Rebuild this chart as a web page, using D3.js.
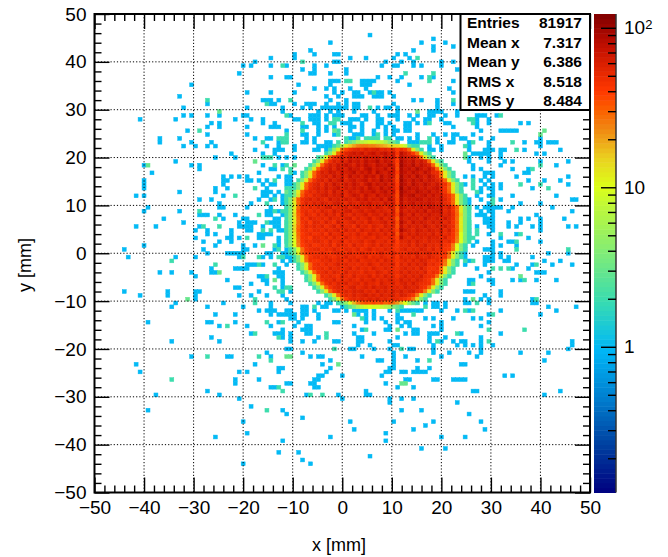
<!DOCTYPE html>
<html>
  <head>
    <meta charset="utf-8">
    <title>beam spot</title>
    <style>
      body { margin: 0; background: #fff; }
      text { font-family: "Liberation Sans", Arial, sans-serif; fill: #000; }
    </style>
  </head>
  <body>
    <script src="https://cdn.jsdelivr.net/npm/d3@7"></script>
    <script>
      // histogram has 125 x 125 bins, rows count from the top of the frame
      var nBins = 125;

      // sparse cells: [row, col, col, ...]
      var hits1 = [
        [5,69],[6,85],[7,59,82,88],[8,85,90],[9,54,80,85],[10,50,55,60,61,76,78],[11,44,50,64,68,75,79],
        [12,40,60,61,73,77,80,87,90],[13,37,39,44,48,55,58,72,75,76,80,82,87],[14,52,55,63,91],[15,36,54,55,59,63],
        [16,44,48,49,71,74,77,82,85],[17,59,60,61,67,68,69,70,76,90],[18,24,51,59,67,68,69,79],[19,55,58,60,64,68,89],
        [20,38,44,50,60,62,65,66,69,71,72,74,90],[21,21,58,61,65,66,67,70,71,72,75],[22,42,43,44,46,59,63,80,82,86],
        [23,28,44,45,50,53,54,55,58,61,63,65,66,75,86,90],[24,22,38,47,52,54,57,58,59,60,61,62,63,65,66,71,73,74,76,86],
        [25,47,56,59,61,65,70,76,84,85,86,87,91],
        [26,22,24,28,31,37,38,49,54,55,56,58,60,61,62,67,68,71,74,75,76,79,81,84,85,88,91,96,97,98,101],
        [27,11,20,35,39,42,50,51,54,55,56,58,64,65,66,68,71,72,76,80,83,84,87,96,99],
        [28,29,31,42,45,55,56,62,63,64,67,71,72,74,78,79,81,83,88,89,96,99,107,109],
        [29,28,31,38,44,45,46,52,53,56,58,60,64,65,67,71,73,75,78,79,90,96],
        [30,23,48,56,58,64,67,70,73,75,76,78,79,97,102,103,104,105,106],
        [31,28,38,52,53,56,60,65,66,67,70,73,75,81,85,88,90,91,95],
        [32,16,21,40,43,44,53,55,64,65,76,77,79,81,86,90,92,93,97,100,112],
        [33,16,24,29,46,52,53,55,58,59,79,80,81,86,89,90,94,99,108,111,112,114,115,116],
        [34,22,25,28,30,43,46,50,56,57,58,59,60,84,87,94,99,112],
        [35,40,45,46,47,50,55,56,58,84,85,87,94,98,99,100,102,103,108,117],
        [36,34,42,45,95,96,97,98,99,102,111,113],[37,30,35,46,48,50,94,97,99,102],[38,20,94,99,103,105,112,119],
        [39,12,24,26,42,47,95,102,116],[40,26,44,45,95,97,105,109],[41,14,41,50,98,99,100,108,109],
        [42,32,34,36,38,46,48,49,93,95,98,100,106,119],[43,12,32,33,38,39,41,43,48,49,97,99,109,113,117],
        [44,12,32,42,44,45,48,49,93,98,100,102,119],[45,12,30,33,43,97,99,100,102,110],[46,21,30,42,43,44,46,97,100],
        [47,10,12,32,42,43,45,47,96,99,100,105,116],[48,26,29,41,44,47,93,94,97,102,120,121],[49,31,39,47,48,94,99,107,112],
        [50,13,31,32,38,44,48,96,98,99,100,101,102,105,115],[51,12,21,43,44,46,97,99,100,104,120],
        [52,26,27,28,31,35,43,44,47,96,97,98,100,111],[53,17,32,37,38,45,46,93,98,99,100,107,109,112,118],
        [54,22,36,38,39,40,44,45,46,98,99,100,104,107,112],[55,10,15,26,36,37,38,39,42,45,46,96,99,100,104,106,110,112,119,121],
        [56,25,28,34,38,39,46,47,94,100,112],[57,28,30,34,41,42,43,44,94,99,106],[58,25,33,34,36,41,42,46,93,94,102,109],
        [59,27,31,34,46,96,100,104,105,112],[60,12,30,37,40,46,93,95,100,102,106],[61,7,27,37,38,45,48,93,98,99,100],
        [62,28,33,34,35,36,37,43,44,47,48,49,93,100,102,114,119],[63,8,20,25,36,42,44,48,49,93,98,99,100,102,104,110],
        [64,47,49,94,98,99,100,103,104,113,117],[65,38,39,40,42,48,93,98,106,110,115,120],[66,29,35,36,37,38,46,96,105,109],
        [67,16,19,24,29,30,45,46,47,99,111,112,113],[68,25,41,42,46,47,97],[69,33,42,43,47,94,95,99,100,105,107,111,116],
        [70,39,43,47,94,100],[71,35,36,47],[72,7,18,25,26,41,49,93,94,95,102],[73,11,18,25,36,39,43,47,98,102],
        [74,25,48,93,97,99,110],[75,20,32,44,49,56,58,59,61,62,83,85,86,88,93,94,99,110,111],
        [76,19,28,37,44,52,53,57,58,62,63,85,86,88,114,121],
        [77,41,43,44,45,48,49,52,53,55,60,61,63,65,66,67,68,70,74,77,78,79,80,81,82,87,91,94,102,116],
        [78,30,35,44,46,47,48,49,50,52,53,56,66,68,70,76,99,112],[79,49,50,52,56,68,70,72,76,77,83,85,90,95,97],
        [80,13,28,29,35,46,51,60,61,68,73,76,78,79,87,99],[81,31,38,44,50,53,54,65,74,77,79,85,87,97],
        [82,47,52,53,54,67,73,74,80,81,87],[83,39,45,46,47,49,53,54,65,70,78,80,81,84,85,86,92,102],
        [84,29,47,49,56,66,67,76,84,88,97],[85,19,31,49,52,55,60,61,66,67,74,84,87,90,92,93,97,120],
        [86,66,69,75,76,85,91,93,95,97,100,120],[87,48,49,64,65,70,74,79,80,85,97,119],[88,43,52,75,85,89,94,97,107,114],
        [89,24,33,34,44,54,56,57,67,75,78,87,96],[90,59,71,72,75,81,113],[91,10,40,57,75,92,93],[92,46,47,59,74,75,81,84],
        [93,11,36,38,46,58,73,74,77,78,80,81,82,83],[94,56,57,62,72,103,105],[95,35,41,55,56,78,79,85,86,90,91,92,93],
        [96,35,48,49,54,55,73],[97,44,45,55,56,76,80],[98,28,68,95,96,117],[99,15,31,53,61,68,69,113],[100,36,62,74,77,80],
        [101,74,91],[102,39],[103,13,47,77,82],[104,48,94],[105,52],[106,37,64,75,85,97],[107,83],[108,65,80,98],[109,38,73],
        [110,30,59,87,93],[111,47,73],[113,82,88],[114,46,51],[115,69],[116,52],[117,37,54]
      ];
      var hits2 = [
        [11,81],[12,52],[13,47],[15,78,85],[16,84],[17,63,64,84],[20,70],[22,28,49,90],[23,43],[24,69],[26,48,102],
        [27,60,61,94,95],[28,52,59,60,84,95],[30,26,52,61],[31,48,61,71],[32,46,47,48,63,66,68,69,70,71,73,74,84],
        [33,42,47,48,61,82,83,84,95,105],[34,61,80,81,93],[35,60,61,106],[37,42,43,44],[39,45,48,112],[40,47,49,110],[41,49],
        [43,45,95],[44,95,107,112],[45,40,48,49,95,114],[46,92,96],[47,35,48,49,92],[48,45,48,49,100],[49,43,100],[50,94],
        [51,26,45,47,48,93],[52,41],[53,30],[54,43,48,93,94],[55,27,31,93,94],[56,42,44,96],[57,48,96,102,107],[58,38,48,95],
        [59,48,106],[60,45],[61,46,106,119],[63,37,41,46,47],[64,19,93,95],[65,30,41,45,111],[66,100,102,104],[68,43],
        [69,108],[70,95],[71,45,48,49],[72,46,47],[74,40,111],[75,40,96],[76,55,83],[77,76,93,95],[78,80,100],[79,67],
        [80,43,47],[81,33],[82,68,99,108],[83,40,58,91],[84,46,58],[85,86,99],[87,60,77],[89,28,41],[90,44,84],[95,19],
        [97,46],[98,47],[99,54,57],[103,43]
      ];
      var hits3 = [
        [25,31,81],[30,60,113],[31,112],[36,93],[37,93],[38,40],[39,13,50],[46,48,49],[48,92],[49,49,92],[55,48],[56,48,92],
        [60,42],[67,31],[68,107],[69,45],[74,23,95],[78,65],[82,76],[89,48,49],[91,61],[96,77,78]
      ];

      // beam spot counts, each row covers columns 46 to 95 in groups of ten
      var spotFirstRow = 33, spotFirstCol = 46;
      var spotCounts = [
        [0,0,0,0,0,0,0,0,0,0, 0,0,0,0,0,0,0,2,3,4, 6,7,8,9,9,8,8,6,4,3, 2],
        [0,0,0,0,0,0,0,0,0,0, 0,0,0,0,2,3,6,12,16,20, 24,26,26,24,24,22,20,18,16,14, 14,12,8,3,2],
        [0,0,0,0,0,0,0,0,0,0, 0,0,0,2,5,12,28,38,46,52, 56,50,60,54,58,62,52,56,50,54, 40,50,44,30,12,4,2],
        [0,0,0,0,0,0,0,0,0,0, 0,0,2,4,12,30,44,56,62,70, 62,72,58,66,74,60,68,76,62,70, 44,80,64,54,42,28,12,4,2],
        [0,0,0,0,0,0,0,0,0,0, 2,4,12,30,48,58,66,54,72,62, 70,60,76,64,68,72,58,78,66,74, 42,84,70,62,72,56,30,12,4,2],
        [0,0,0,0,0,0,0,0,0,2, 4,12,30,48,60,54,68,58,76,64, 72,60,78,66,70,84,62,74,68,58, 40,92,72,66,78,60,70,58,30,12, 4,2],
        [0,0,0,0,0,0,0,0,2,4, 12,30,50,62,56,70,60,76,66,58, 74,62,80,68,60,78,70,64,82,66, 38,96,74,68,84,62,76,66,58,30, 12,4,2],
        [0,0,0,0,0,0,0,2,4,12, 30,50,58,68,54,72,64,60,78,66, 70,58,76,84,62,72,66,80,60,74, 36,90,70,78,66,86,72,62,76,58, 30,12,4,2],
        [0,0,0,0,0,0,2,4,12,30, 48,62,56,70,66,58,74,62,68,80, 60,72,64,78,58,84,68,62,76,70, 40,86,74,64,80,70,62,78,68,52, 50,30,12,4,2],
        [0,0,0,0,0,0,2,4,12,32, 50,58,64,54,72,60,68,56,76,62, 70,60,78,66,74,58,82,64,72,68, 36,94,66,76,62,84,70,60,78,64, 52,28,12,4,2],
        [0,0,0,0,0,2,4,12,30,46, 56,62,52,70,58,66,74,54,64,72, 60,68,76,58,70,62,84,66,74,60, 38,98,72,64,80,68,78,62,72,66, 58,48,30,12,4,2],
        [0,0,0,0,2,4,12,30,46,54, 60,50,66,56,72,62,54,68,60,74, 64,56,70,80,62,72,66,76,60,68, 40,90,76,62,82,70,64,78,68,60, 70,56,48,30,12,4,2],
        [0,0,0,0,2,4,12,32,48,56, 62,54,68,58,64,74,56,66,60,70, 62,72,58,78,66,60,80,64,74,62, 42,102,66,80,70,76,64,72,62,68, 74,60,44,28,12,4,2],
        [0,0,0,2,4,12,30,46,54,50, 60,56,64,52,70,58,62,54,68,62, 58,72,64,66,76,60,70,78,62,74, 38,94,76,70,64,82,72,66,78,62, 70,58,46,30,12,4,2],
        [0,0,0,2,4,14,34,50,46,58, 54,62,66,56,64,60,70,52,60,72, 66,56,74,62,58,76,62,70,66,60, 36,90,68,76,84,64,70,78,62,74, 62,68,52,44,30,12,4,2],
        [0,0,2,4,14,32,48,54,60,52, 62,56,50,68,58,64,54,66,60,56, 70,62,72,58,66,60,74,56,80,64, 38,86,62,72,68,78,74,62,72,66, 64,72,56,46,30,12,4,2],
        [0,0,2,4,12,30,46,58,50,60, 54,64,58,52,62,66,56,50,64,58, 54,66,60,70,58,62,56,72,60,66, 38,82,60,68,76,62,70,66,74,68, 60,70,52,48,30,12,4,2],
        [0,0,2,4,12,30,50,46,56,48, 58,52,62,66,50,58,54,64,52,60, 66,56,58,64,54,68,60,52,66,58, 36,78,66,58,68,62,72,60,78,70, 64,72,54,66,48,30,12,4,2],
        [0,0,2,4,12,34,48,52,46,54, 48,60,54,50,64,56,52,62,66,52, 58,64,54,60,66,56,62,58,52,66, 34,74,58,66,60,70,62,76,58,68, 66,74,52,60,46,28,12,4,2],
        [0,0,2,4,14,32,44,56,50,46, 58,50,62,52,60,48,64,54,50,62, 54,58,66,52,60,62,54,68,58,64, 38,82,64,56,74,58,66,60,70,62, 60,70,56,62,50,30,14,4,2],
        [0,0,2,4,12,30,50,44,58,52, 50,54,48,62,52,56,50,60,64,48, 60,52,56,66,50,58,68,52,60,56, 32,72,58,68,60,66,56,74,62,58, 66,54,68,58,48,28,12,4,2],
        [0,0,2,4,12,28,46,52,42,56, 54,48,60,52,46,64,54,50,56,62, 52,58,50,64,56,54,60,66,52,64, 36,84,64,54,72,60,68,62,56,66, 58,68,52,60,46,30,12,4,2],
        [0,0,2,4,14,30,44,54,48,56, 50,58,46,52,62,48,60,52,54,46, 64,52,58,48,60,54,50,64,56,60, 34,76,56,66,58,64,58,72,60,54, 64,56,66,54,50,28,12,4,2],
        [0,0,2,4,14,32,46,50,44,52, 52,48,58,50,54,60,46,62,52,58, 48,62,54,52,60,50,64,54,60,52, 38,88,66,60,54,68,62,56,66,60, 56,66,50,62,46,30,12,4,2],
        [0,0,2,4,12,30,42,48,52,46, 48,54,44,60,50,52,58,48,54,50, 60,52,48,62,54,58,52,62,50,64, 34,68,54,64,56,66,58,60,54,64, 52,62,50,56,44,28,10,4,2],
        [0,0,2,4,12,28,44,46,40,54, 52,48,56,46,58,50,46,60,52,48, 54,50,58,52,48,60,54,50,58,52, 38,82,58,52,64,56,60,54,64,58, 60,50,62,48,44,26,10,4,2],
        [0,0,2,4,10,26,42,50,46,52, 54,50,46,58,48,52,60,46,54,50, 52,58,48,54,60,50,52,58,48,60, 40,56,54,62,52,64,56,52,60,54, 56,62,48,54,42,24,10,4,2],
        [0,0,2,4,10,24,40,46,52,44, 46,52,48,56,44,58,48,52,46,60, 50,54,46,52,58,48,60,52,54,50, 42,54,52,60,50,62,54,64,52,56, 50,58,46,44,26,10,4,2],
        [0,0,0,2,4,10,28,44,48,52, 54,46,52,48,58,50,44,54,52,48, 58,46,52,60,48,54,50,58,52,48, 44,54,60,50,56,52,62,58,50,60, 48,56,44,42,26,10,4,2],
        [0,0,0,2,4,12,28,42,50,46, 46,54,48,44,52,58,50,46,60,48, 52,58,50,54,46,52,60,48,54,58, 46,52,50,60,54,62,52,56,60,50, 54,44,46,28,12,4,2],
        [0,0,0,0,2,4,12,30,44,50, 52,48,56,50,46,54,48,60,50,54, 48,52,60,46,54,50,58,52,48,54, 42,60,52,56,50,64,54,52,62,54, 50,46,44,26,12,4,2],
        [0,0,0,0,2,4,12,28,46,44, 44,52,50,58,48,54,52,46,58,50, 60,48,52,54,50,58,48,60,52,50, 44,52,58,50,60,52,62,58,50,46, 52,44,28,12,4,2],
        [0,0,0,0,0,2,4,12,30,46, 50,46,54,48,52,60,48,56,50,52, 48,54,50,60,52,48,58,52,54,60, 42,58,50,62,52,60,54,64,48,52, 46,42,26,12,4,2],
        [0,0,0,0,0,2,4,12,32,46, 48,52,46,58,50,54,48,52,60,48, 58,50,54,48,60,52,50,58,52,50, 46,54,60,52,58,50,64,52,46,44, 48,28,12,4,2],
        [0,0,0,0,0,0,2,4,12,30, 46,50,56,48,58,52,46,60,50,54, 52,48,58,52,50,60,54,48,58,52, 48,60,52,62,54,58,52,60,44,50, 46,28,12,4,2],
        [0,0,0,0,0,0,0,2,4,12, 30,52,48,54,50,46,58,52,48,60, 50,54,52,60,48,58,50,62,52,54, 44,54,62,52,60,54,64,50,48,46, 28,12,4,2],
        [0,0,0,0,0,0,0,2,4,12, 32,46,52,50,60,48,54,50,58,52, 48,60,52,54,62,50,58,52,60,54, 50,64,54,60,52,62,56,48,44,28, 12,4,2],
        [0,0,0,0,0,0,0,0,2,4, 12,30,46,54,48,58,52,60,50,54, 58,50,60,52,54,48,62,54,52,60, 48,58,62,52,64,54,50,48,46,28, 12,4,2],
        [0,0,0,0,0,0,0,0,0,2, 4,12,30,44,52,56,52,48,58,62, 50,54,60,52,64,54,58,62,52,54, 56,52,64,58,54,60,48,44,28,12, 4,2],
        [0,0,0,0,0,0,0,0,0,0, 2,4,12,30,46,54,48,58,52,60, 56,62,52,58,50,64,54,60,52,62, 54,64,54,60,62,50,46,26,12,4, 2],
        [0,0,0,0,0,0,0,0,0,0, 0,0,2,4,12,28,44,54,50,60, 52,58,64,54,60,52,62,54,58,60, 50,62,58,50,44,26,12,4,2],
        [0,0,0,0,0,0,0,0,0,0, 0,0,0,2,4,12,26,40,50,54, 50,58,52,60,54,62,52,58,50,54, 52,48,44,38,26,12,4,2],
        [0,0,0,0,0,0,0,0,0,0, 0,0,0,0,0,2,3,5,10,18, 26,32,36,34,38,34,38,30,34,28, 22,16,10,5,3,2],
        [0,0,0,0,0,0,0,0,0,0, 0,0,0,0,0,0,0,2,3,4, 6,8,9,10,9,9,8,7,6,4, 3,2]
      ];

      var majorTicks = [-50,-40,-30,-20,-10,0,10,20,30,40,50];
      var minorTicks = d3.range(-50, 51, 2).filter(function(d) { return d % 10 != 0; });
      var paletteMajor = [1,10,100];
      var paletteMinor = [0.2,0.3,0.4,0.5,0.6,0.7,0.8,0.9,2,3,4,5,6,7,8,9,20,30,40,50,60,70,80,90];
      var paletteMin = 0.122, paletteMax = 122;
      var paletteStops = [0,0.1,0.2,0.3,0.4,0.5,0.6,0.64,0.7,0.76,0.8,0.84,0.887,0.93,0.96,1];
      var paletteColors = ["#00007f","#0040a0","#0080d0","#00b8f8","#38dcb0","#80ec78","#c0f838","#dcff18",
                           "#ead020","#f08812","#fb6000","#ff3800","#e02400","#c41000","#a80800","#800000"];
      var statLabels = ["Entries","Mean x","Mean y","RMS x","RMS y"];
      var statValues = ["81917","7.317","6.386","8.518","8.484"];

      var frame = {left: 94.5, right: 590, top: 14, bottom: 492.5};
      var pal = {left: 594, right: 616};

      var x = d3.scaleLinear().domain([-50,50]).range([frame.left, frame.right]);
      var y = d3.scaleLinear().domain([-50,50]).range([frame.bottom, frame.top]);
      var colEdge = d3.scaleLinear().domain([0,nBins]).range([-50,50]);
      var rowEdge = d3.scaleLinear().domain([0,nBins]).range([50,-50]);
      var zLog = d3.scaleLog().domain([paletteMin,paletteMax]).range([0,1]);
      var ramp = d3.scaleLinear().domain(paletteStops).range(paletteColors);
      var yz = d3.scaleLog().domain([paletteMin,paletteMax]).range([frame.bottom, frame.top]);

      var svg = d3.select("body").append("svg")
        .attr("width", 668)
        .attr("height", 557);

      var cells = [];
      [[hits1,1],[hits2,2],[hits3,3]].forEach(function(h) {
        h[0].forEach(function(r) {
          r.slice(1).forEach(function(c) { cells.push({row: r[0], col: c, n: h[1]}); });
        });
      });
      spotCounts.forEach(function(r, i) {
        r.forEach(function(n, j) {
          if(n > 0) cells.push({row: spotFirstRow + i, col: spotFirstCol + j, n: n});
        });
      });

      svg.append("g").selectAll("rect")
        .data(cells)
        .enter().append("rect")
        .attr("x", function(d) { return x(colEdge(d.col)); })
        .attr("y", function(d) { return y(rowEdge(d.row)); })
        .attr("width", function(d) { return x(colEdge(d.col+1)) - x(colEdge(d.col)); })
        .attr("height", function(d) { return y(rowEdge(d.row+1)) - y(rowEdge(d.row)); })
        .style("fill", function(d) { return ramp(zLog(d.n)); })
        .style("stroke", function(d) { return ramp(zLog(d.n)); })
        .style("stroke-width", 0.5);

      // dotted grid sits on top of the cells
      var grid = svg.append("g").style("stroke","#000").style("stroke-width",1).style("stroke-dasharray","1.2 2");
      majorTicks.slice(1,-1).forEach(function(t) {
        grid.append("line").attr("x1",x(t)).attr("x2",x(t)).attr("y1",frame.top).attr("y2",frame.bottom);
        grid.append("line").attr("x1",frame.left).attr("x2",frame.right).attr("y1",y(t)).attr("y2",y(t));
      });

      function styleAxis(g, fontSize) {
        g.select(".domain").remove();
        g.selectAll("line").style("stroke","#000").style("stroke-width",1.4);
        g.selectAll("text").style("font-family",'"Liberation Sans"').style("font-size",fontSize+"px").style("fill","#000");
      }

      // bottom and left carry the labels, top and right only ticks
      svg.append("g").attr("transform","translate(0,"+frame.bottom+")")
        .call(d3.axisBottom(x).tickValues(majorTicks).tickSize(-15).tickPadding(8))
        .call(styleAxis, 19);
      svg.append("g").attr("transform","translate(0,"+frame.bottom+")")
        .call(d3.axisBottom(x).tickValues(minorTicks).tickSize(-7).tickFormat(""))
        .call(styleAxis, 19);
      svg.append("g").attr("transform","translate(0,"+frame.top+")")
        .call(d3.axisTop(x).tickValues(majorTicks).tickSize(-15).tickFormat(""))
        .call(styleAxis, 19);
      svg.append("g").attr("transform","translate(0,"+frame.top+")")
        .call(d3.axisTop(x).tickValues(minorTicks).tickSize(-7).tickFormat(""))
        .call(styleAxis, 19);
      svg.append("g").attr("transform","translate("+frame.left+",0)")
        .call(d3.axisLeft(y).tickValues(majorTicks).tickSize(-15).tickPadding(8))
        .call(styleAxis, 19);
      svg.append("g").attr("transform","translate("+frame.left+",0)")
        .call(d3.axisLeft(y).tickValues(minorTicks).tickSize(-7).tickFormat(""))
        .call(styleAxis, 19);
      svg.append("g").attr("transform","translate("+frame.right+",0)")
        .call(d3.axisRight(y).tickValues(majorTicks).tickSize(-15).tickFormat(""))
        .call(styleAxis, 19);
      svg.append("g").attr("transform","translate("+frame.right+",0)")
        .call(d3.axisRight(y).tickValues(minorTicks).tickSize(-7).tickFormat(""))
        .call(styleAxis, 19);

      svg.append("rect")
        .attr("x",frame.left).attr("y",frame.top)
        .attr("width",frame.right-frame.left).attr("height",frame.bottom-frame.top)
        .style("fill","none").style("stroke","#000").style("stroke-width",2);

      // palette
      var bands = d3.range(0,100);
      svg.append("g").selectAll("rect")
        .data(bands)
        .enter().append("rect")
        .attr("x",pal.left)
        .attr("width",pal.right-pal.left)
        .attr("y",function(d) { return frame.bottom - (d+1)/bands.length*(frame.bottom-frame.top); })
        .attr("height",(frame.bottom-frame.top)/bands.length+0.5)
        .style("fill",function(d) { return ramp((d+0.5)/bands.length); });
      svg.append("line").attr("x1",pal.right).attr("x2",pal.right).attr("y1",frame.top).attr("y2",frame.bottom)
        .style("stroke","#333").style("stroke-width",1.5);
      svg.append("g").attr("transform","translate("+pal.right+",0)")
        .call(d3.axisRight(yz).tickValues(paletteMinor).tickSize(-8).tickFormat(""))
        .call(styleAxis, 19);
      svg.append("g").attr("transform","translate("+pal.right+",0)")
        .call(d3.axisRight(yz).tickValues(paletteMajor).tickSize(-15).tickPadding(8)
          .tickFormat(function(d) { return d == 100 ? "10" : d; }))
        .call(styleAxis, 19)
        .selectAll("text").filter(function(d) { return d == 100; })
        .append("tspan").attr("dy","-0.45em").style("font-size","13px").text("2");

      // stats box
      svg.append("rect")
        .attr("x",460.5).attr("y",14).attr("width",129.5).attr("height",96)
        .style("fill","#fff").style("stroke","#000").style("stroke-width",2);
      var statY = d3.scalePoint().domain(statLabels).range([23,101]);
      var stats = svg.append("g").style("font-weight","bold").style("font-size","15.5px");
      stats.selectAll("text.lab").data(statLabels).enter().append("text")
        .attr("class","lab").attr("x",467)
        .attr("y",function(d) { return statY(d); }).attr("dy","0.35em")
        .text(function(d) { return d; });
      stats.selectAll("text.val").data(statValues).enter().append("text")
        .attr("class","val").attr("x",582).attr("text-anchor","end")
        .attr("y",function(d,i) { return statY(statLabels[i]); }).attr("dy","0.35em")
        .text(function(d) { return d; });

      svg.append("text").attr("x",339).attr("y",551).attr("text-anchor","middle").style("font-size","18px").text("x [mm]");
      svg.append("text").attr("transform","translate(31,265) rotate(-90)").attr("text-anchor","middle").style("font-size","18px").text("y [mm]");
    </script>
  </body>
</html>
